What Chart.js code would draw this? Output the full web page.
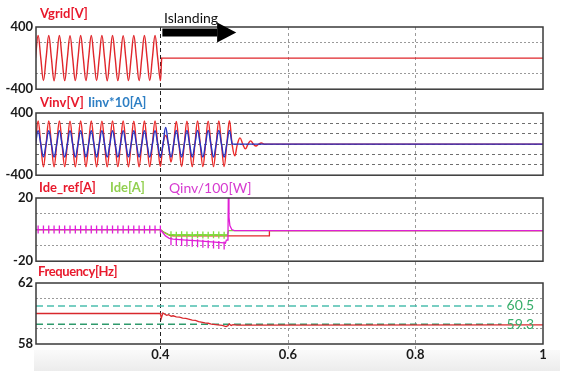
<!DOCTYPE html>
<html>
<head>
<meta charset="utf-8">
<script src="https://cdn.jsdelivr.net/npm/chart.js"></script>
<style>
  body { margin: 0; width: 575px; height: 371px; background: #fff; position: relative; overflow: hidden; }
  canvas { position: absolute; left: 0; }
  .lbl { position: absolute; font-family: Lato, "Liberation Sans", sans-serif; font-weight: bold; font-size: 13px; line-height: 13px; white-space: nowrap; }
  .band { position: absolute; left: 34px; top: 350px; width: 526px; height: 21px; background: linear-gradient(#fafafa, #ececec); }
</style>
</head>
<body>
<div class="band"></div>
<canvas id="p1" width="575" height="100" style="top:0"></canvas>
<canvas id="p2" width="575" height="95" style="top:91px"></canvas>
<canvas id="p3" width="575" height="95" style="top:177px"></canvas>
<canvas id="p4" width="575" height="109" style="top:262px"></canvas>

<div class="lbl" style="left:40px;top:7px;color:#e8192c">Vgrid[V]</div>
<div class="lbl" style="left:164px;top:11px;color:#111;font-weight:normal;font-size:14px;line-height:14px">Islanding</div>
<div class="lbl" style="left:40px;top:96px;color:#e8192c">Vinv[V]</div>
<div class="lbl" style="left:88px;top:96px;color:#2e7fc4">Iinv*10[A]</div>
<div class="lbl" style="left:39px;top:181px;color:#e8192c">Ide_ref[A]</div>
<div class="lbl" style="left:110px;top:181px;color:#92d050">Ide[A]</div>
<div class="lbl" style="left:169px;top:181px;color:#d63bd0;font-weight:normal;font-size:14px;line-height:14px">Qinv/100[W]</div>
<div class="lbl" style="left:38px;top:265px;color:#e8192c;letter-spacing:-0.4px">Frequency[Hz]</div>

<script>
// time axis
const xTicks = [0.4, 0.6, 0.8, 1];
const T0 = 0.2;          // first sample, s
const HALF = 1 / 120;    // half period of 60 Hz, s

// waveform extremes, one value per half cycle starting at T0
const vgridPeaks = [-290, 291, -289, 290, -291, 290, -290, 289, -290, 291, -290, 290, -289,
  290, -291, 290, -290, 289, -290, 291, -290, 290, -289, 290, -290];
const vinvPeaks = [-290, 298, -292, 297, -291, 298, -290, 296, -292, 297, -290, 298, -291,
  296, -292, 297, -290, 298, -291, 296, -292, 297, -290, 298, -288,
  110, -230, 292, -288, 296, -290, 298, -289, 295, -290, 297, -288, 300,
  -150, 80, -62, 42, -25, 14];
const iinvPeaks = [-165, 173, -164, 172, -165, 173, -166, 172, -165, 173, -164, 172, -165,
  173, -166, 172, -165, 173, -164, 172, -165, 173, -166, 172, -165,
  215, -165, 176, -166, 177, -165, 176, -166, 177, -165, 176, -166, 177];

// dc current / reactive power
const qT = [0.2, 0.4, 0.403, 0.408, 0.414, 0.42, 0.44, 0.46, 0.48, 0.5, 0.502, 0.5035, 0.506, 0.5066, 0.5076, 0.509, 0.512, 0.516, 1];
const qV = [0, 0, -1.5, -4, -5.5, -6, -6.6, -7.2, -7.8, -8.4, -8.6, -6.6, -6.6, 24, 8, 2.5, 0, -0.6, -0.6];
const qRipple = [0, 0, 0, 0, 0, 0, 0, 0, 0, 0, 0, 0, 0, 0, 0, 0, 0, 0, 0, 0, 0, 0, 0, 0];   // half cycles 1..24
const qRippleIsland = [-7.4, -7.7, -7.9, -8.2, -8.4, -8.7, -9, -9.3, -9.5, -9.8, -10];    // half cycles 26..36
const ideT = [0.2, 0.4, 0.405, 0.412, 0.42, 0.505, 0.507, 1];
const ideV = [0, 0, -1.5, -3, -3.4, -3.4, -0.6, -0.6];
const ideRipple = [-3.2, -3.5, -3.3, -3.4, -3.6, -3.3, -3.4, -3.5, -3.3, -3.4, -3.5];       // half cycles 26..36
const refT = [0.2, 0.4, 0.406, 0.415, 0.42, 0.5705, 0.571, 1];
const refV = [0, 0, -1.8, -3.6, -4, -4, -0.6, -0.6];

// frequency
const freqT = [0.2, 0.4, 0.4015, 0.404, 0.407, 0.41, 0.413, 0.417, 0.42, 0.425, 0.43, 0.435, 0.44, 0.45, 0.455, 0.46,
  0.47, 0.475, 0.48, 0.49, 0.497, 0.503, 0.506, 0.508, 0.511, 0.514, 0.52, 1];
const freqV = [60, 60, 59.7, 60.03, 59.95, 59.88, 59.92, 59.82, 59.85, 59.78, 59.76, 59.7, 59.68, 59.56, 59.55, 59.47,
  59.38, 59.36, 59.3, 59.25, 59.22, 59.14, 59.2, 59.32, 59.22, 59.27, 59.24, 59.25];
const freqLimits = [60.5, 59.3];
const limitEnd = 0.935;

// extremes joined through zero crossings, then held at zero until t = 1
function wave(peaks, lastGap = HALF / 2) {
  const pts = [];
  peaks.forEach((v, i) => {
    const t = T0 + i * HALF;
    pts.push({ x: t, y: v });
    pts.push({ x: t + (i === peaks.length - 1 ? lastGap : HALF / 2), y: 0 });
  });
  const tz = pts[pts.length - 1].x;
  pts.push({ x: tz + 0.0008, y: 0 }, { x: 1, y: 0 });
  return pts;
}
const xy = (ts, vs) => ts.map((t, i) => ({ x: t, y: vs[i] }));
const marks = (first, vs) => vs.map((v, i) => ({ x: T0 + (first + i) * HALF, y: v }));

const panelFrame = {
  id: 'panelFrame',
  beforeDatasetsDraw(chart, args, opts) {
    const { ctx, chartArea: a, scales: { x } } = chart;
    ctx.save();
    ctx.lineWidth = 1;
    xTicks.forEach(v => {
      if (v >= 1) return;
      const px = Math.round(x.getPixelForValue(v)) + 0.5;
      ctx.strokeStyle = v === 0.4 ? '#222' : '#9a9a9a';
      ctx.setLineDash(v === 0.4 ? [4, 3] : [3, 3]);
      ctx.beginPath();
      ctx.moveTo(px, opts.fromTop ? 0 : a.top);
      ctx.lineTo(px, a.bottom + (opts.below || 0));
      ctx.stroke();
    });
    ctx.restore();
  },
  afterDatasetsDraw(chart) {
    const { ctx, chartArea: a } = chart;
    ctx.save();
    ctx.strokeStyle = '#3a3a3a';
    ctx.lineWidth = 1.5;
    ctx.strokeRect(a.left, a.top, a.right - a.left, a.bottom - a.top);
    ctx.restore();
  }
};

function yScale(min, max, ticks, gridAt, gridColor, dash) {
  return {
    min, max,
    afterBuildTicks: s => { s.ticks = ticks.map(v => ({ value: v })); },
    afterFit: s => { s.width = 36; },
    ticks: {
      autoSkip: false, padding: 3, color: '#1a1a1a', font: { size: 13, weight: 'bold' },
      callback: v => (v === min || v === max) ? String(v) : ''
    },
    grid: { drawTicks: false, color: c => gridAt.includes(c.tick.value) ? gridColor : 'transparent' },
    border: { display: false, dash }
  };
}

function xScale(showLabels) {
  return {
    type: 'linear', min: 0.205, max: 1,
    afterBuildTicks: s => { s.ticks = xTicks.map(v => ({ value: v })); },
    afterFit: s => { s.height = showLabels ? 20 : 0; },
    ticks: {
      display: showLabels, autoSkip: false, maxRotation: 0, padding: -5,
      color: '#1a1a1a', font: { size: 13, weight: 'bold' }, callback: v => String(v)
    },
    grid: { display: false },
    border: { display: false }
  };
}

function panel(id, datasets, y, pad, opts = {}) {
  return new Chart(document.getElementById(id), {
    type: 'line',
    data: { datasets },
    options: {
      responsive: false, animation: false, events: [],
      layout: { padding: { left: 0, right: 32, top: pad[0], bottom: pad[1] } },
      elements: { point: { radius: 0 }, line: { borderWidth: 1.3, fill: false } },
      scales: { x: xScale(!!opts.xLabels), y },
      plugins: { legend: { display: false }, tooltip: { enabled: false }, panelFrame: opts.frame || {} }
    },
    plugins: [panelFrame].concat(opts.extra || [])
  });
}

Chart.defaults.font.family = 'Lato, "Liberation Sans", sans-serif';

// islanding arrow above the grid voltage trace
const islandArrow = {
  id: 'islandArrow',
  afterDraw(chart) {
    const { ctx, chartArea: a, scales: { x } } = chart;
    const x0 = x.getPixelForValue(0.4) + 2, x1 = x.getPixelForValue(0.489), x2 = x.getPixelForValue(0.519);
    const yc = a.top + 5.5;
    ctx.save();
    ctx.fillStyle = '#000';
    ctx.fillRect(x0, yc - 4, x1 - x0, 8);
    ctx.beginPath();
    ctx.moveTo(x1, yc - 10); ctx.lineTo(x2, yc); ctx.lineTo(x1, yc + 10);
    ctx.closePath(); ctx.fill();
    ctx.restore();
  }
};

// labels for the frequency trip limits
const limitLabels = {
  id: 'limitLabels',
  afterDatasetsDraw(chart) {
    const { ctx, scales: { x, y } } = chart;
    ctx.save();
    ctx.font = '14px Lato, sans-serif';
    ctx.fillStyle = '#36ad6a';
    ctx.textBaseline = 'middle';
    freqLimits.forEach(v => ctx.fillText(String(v), x.getPixelForValue(limitEnd) + 5, y.getPixelForValue(v)));
    ctx.restore();
  }
};

const sine = { tension: 0.4, borderWidth: 1.4 };

panel('p1', [
  { data: wave(vgridPeaks, HALF / 4), borderColor: '#e0262b', ...sine }
], yScale(-400, 400, [-400, -200, 0, 200, 400], [-200, 200], '#9a9a9a', [2, 2]), [27, 9],
  { extra: [islandArrow] });

panel('p2', [
  { data: wave(iinvPeaks), borderColor: '#2433c4', ...sine },
  { data: wave(vinvPeaks), borderColor: '#ec2a2a', ...sine }
], yScale(-400, 400, [-400, -800 / 3, -400 / 3, 0, 400 / 3, 800 / 3, 400],
  [-800 / 3, -400 / 3, 0, 400 / 3, 800 / 3], '#6f6f6f', [3, 3]), [22, 9], { frame: { fromTop: true } });

panel('p3', [
  { data: xy(qT, qV), borderColor: '#e01fd6' },
  { data: marks(1, qRipple), showLine: false, pointRadius: 4, pointStyle: 'line', pointRotation: 90, pointBorderColor: '#e01fd6', pointBorderWidth: 1.3 },
  { data: marks(26, qRippleIsland), showLine: false, pointRadius: 4, pointStyle: 'line', pointRotation: 90, pointBorderColor: '#e01fd6', pointBorderWidth: 1.3 },
  { data: marks(26, ideRipple), showLine: false, pointRadius: 3.5, pointStyle: 'cross', pointBorderColor: '#7edc3a', pointBorderWidth: 1.3 },
  { data: xy(ideT, ideV), borderColor: '#7edc3a' },
  { data: xy(refT, refV), borderColor: '#e3262a' }
], yScale(-20, 20, [-20, -10, 0, 10, 20], [-10, 10], '#9a9a9a', [2, 2]), [21, 10], { frame: { fromTop: true } });

panel('p4', [
  { data: xy(freqT, freqV), borderColor: '#d8282c' },
  { data: [{ x: 0.205, y: freqLimits[0] }, { x: limitEnd, y: freqLimits[0] }], borderColor: '#4cbfae', borderDash: [7, 4], borderWidth: 1.5 },
  { data: [{ x: 0.205, y: freqLimits[1] }, { x: limitEnd, y: freqLimits[1] }], borderColor: '#2f9a6c', borderDash: [7, 4], borderWidth: 1.5 }
], yScale(58, 62, [58, 59, 60, 61, 62], [59, 60, 61], '#9a9a9a', [2, 2]), [21, 7],
  { xLabels: true, frame: { fromTop: true, below: 5 }, extra: [limitLabels] });
</script>
</body>
</html>
